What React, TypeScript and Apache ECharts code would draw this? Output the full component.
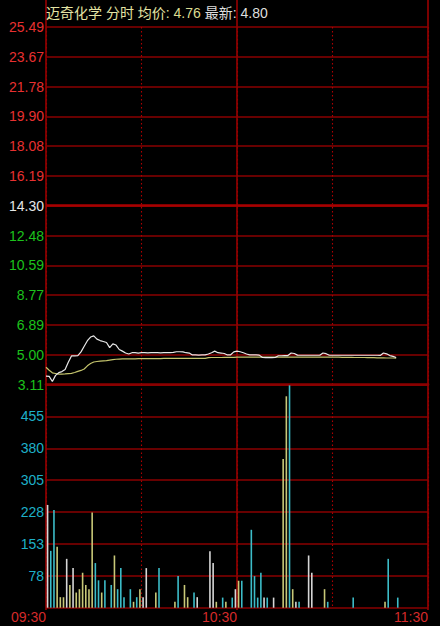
import { useEffect, useRef } from 'react';
import * as echarts from 'echarts';

// Intraday (分时) chart of 迈奇化学, morning session 09:30–11:30
const stockName = '迈奇化学';
const timeLabels = ['09:30', '10:30', '11:30'];
const sessionMinutes = 120;

const priceMin = 3.11;
const priceMax = 25.49;
const prevClose = 14.3;
const priceTickLabels = [
  '3.11', '5.00', '6.89', '8.77', '10.59', '12.48', '14.30',
  '16.19', '18.08', '19.90', '21.78', '23.67', '25.49',
];

const volumeMax = 530;
const volumeTickLabels = ['', '78', '153', '228', '305', '380', '455', ''];

// last price per minute, minute 0 = 09:30
const price = [
  3.64, 3.62, 3.3, 3.68, 3.85, 3.92, 4.05, 4.5, 4.9, 4.9,
  4.92, 5.15, 5.5, 5.85, 6.08, 6.15, 5.95, 5.86, 5.8, 5.74,
  5.42, 5.65, 5.58, 5.3, 5.2, 5.08, 5.02, 5.1, 5.1, 5.08,
  5.1, 5.1, 5.09, 5.1, 5.1, 5.1, 5.09, 5.1, 5.1, 5.1,
  5.12, 5.16, 5.16, 5.15, 5.1, 5.08, 4.96, 4.96, 4.95, 4.96,
  4.96, 5.02, 5.1, 5.2, 5.1, 5.08, 5.05, 4.96, 4.97, 5.15,
  5.2, 5.16, 5.1, 5.02, 4.96, 4.96, 4.96, 4.95, 4.8, 4.79,
  4.79, 4.79, 4.8, 4.91, 4.91, 4.92, 4.92, 5.08, 5.05, 4.95,
  4.94, 4.94, 4.94, 4.94, 4.94, 4.94, 4.94, 5.08, 5.04, 4.94,
  4.94, 4.94, 4.94, 4.94, 4.94, 4.94, 4.94, 4.94, 4.94, 4.94,
  4.94, 4.94, 4.94, 4.94, 4.94, 4.93, 5.08, 5.03, 4.92, 4.87,
  4.8,
];

// running average price per minute
const avgPrice = [
  4.19, 4.0, 3.84, 3.8, 3.76, 3.76, 3.77, 3.79, 3.81, 3.86,
  3.93, 3.99, 4.08, 4.28, 4.42, 4.52, 4.55, 4.57, 4.59, 4.61,
  4.64, 4.67, 4.69, 4.7, 4.71, 4.72, 4.72, 4.72, 4.72, 4.73,
  4.73, 4.73, 4.73, 4.73, 4.73, 4.73, 4.73, 4.74, 4.74, 4.74,
  4.74, 4.74, 4.74, 4.74, 4.74, 4.74, 4.74, 4.74, 4.74, 4.74,
  4.75, 4.79, 4.8, 4.8, 4.8, 4.8, 4.81, 4.81, 4.81, 4.81,
  4.82, 4.82, 4.82, 4.82, 4.82, 4.82, 4.82, 4.82, 4.82, 4.82,
  4.82, 4.82, 4.82, 4.82, 4.82, 4.82, 4.82, 4.82, 4.82, 4.82,
  4.82, 4.82, 4.82, 4.82, 4.82, 4.82, 4.82, 4.82, 4.82, 4.82,
  4.82, 4.82, 4.82, 4.81, 4.81, 4.81, 4.81, 4.8, 4.8, 4.8,
  4.8, 4.79, 4.79, 4.79, 4.78, 4.78, 4.78, 4.77, 4.77, 4.77,
  4.76,
];

// per-minute volume (only minutes with trades)
const volMinute = [
  0, 1, 2, 3, 4, 5, 6, 7, 8, 9, 10, 11, 12, 13, 14, 15, 16, 17, 18,
  20, 21, 22, 23, 24, 26, 27, 28, 29, 30, 31, 34, 35, 40, 41, 43, 44,
  46, 47, 51, 52, 53, 55, 56, 58, 59, 60, 61, 64, 65, 66, 67, 68, 69,
  71, 74, 75, 76, 77, 78, 79, 82, 83, 87, 88, 96, 106, 107, 110,
];
const volValue = [
  244, 135, 232, 145, 25, 25, 116, 54, 94, 36, 44, 83, 54, 44, 226, 106, 65, 36, 65,
  54, 124, 44, 94, 25, 44, 14, 25, 44, 25, 94, 36, 94, 14, 75, 54, 25,
  36, 25, 134, 106, 14, 24, 14, 24, 44, 64, 64, 185, 75, 24, 83, 24, 24,
  24, 353, 502, 528, 44, 14, 14, 124, 83, 44, 14, 24, 14, 116, 24,
];
// w = unchanged, c = down tick, y = up tick
const volKind = [
  'w', 'c', 'c', 'y', 'y', 'y', 'w', 'y', 'w', 'y', 'y', 'y', 'y', 'y', 'y', 'c', 'c', 'y', 'c',
  'c', 'y', 'c', 'c', 'c', 'c', 'y', 'c', 'y', 'w', 'w', 'y', 'c', 'y', 'c', 'y', 'y',
  'c', 'w', 'w', 'w', 'y', 'c', 'y', 'c', 'w', 'y', 'c', 'c', 'c', 'c', 'c', 'w', 'c',
  'w', 'y', 'y', 'c', 'y', 'w', 'c', 'w', 'w', 'y', 'c', 'c', 'y', 'c', 'c',
];

const kindColor: Record<string, string> = {
  w: '#d6d6d6',
  c: '#3cbcc8',
  y: '#c8c878',
};

const GRID_RED = '#8a0000';
const DOT_RED = '#b00000';
const FONT = '"Liberation Sans", Arial, "Noto Sans CJK SC", sans-serif';

export default function App() {
  const ref = useRef<HTMLDivElement>(null);

  useEffect(() => {
    const chart = echarts.init(ref.current!, null, { renderer: 'svg' });

    const priceStep = (priceMax - priceMin) / (priceTickLabels.length - 1);
    const priceTicks = priceTickLabels.map((_, i) => priceMin + i * priceStep);
    const volStep = volumeMax / (volumeTickLabels.length - 1);

    const lastPrice = price[price.length - 1].toFixed(2);
    const lastAvg = avgPrice[avgPrice.length - 1].toFixed(2);

    const hiddenAxis = {
      axisLine: { show: false },
      axisTick: { show: false },
      axisLabel: { show: false },
    };

    const dottedSplit = { show: true, lineStyle: { color: DOT_RED, width: 1.1, type: [1.5, 2.5] } };

    const option: any = {
      animation: false,
      backgroundColor: '#000',
      title: {
        left: 46,
        top: 6,
        padding: 0,
        text: `{n|${stockName} 分时 均价:}{v| ${lastAvg}} {m|最新:}{w| ${lastPrice}}`,
        textStyle: {
          fontFamily: FONT,
          fontSize: 14,
          fontWeight: 'normal',
          rich: {
            n: { color: '#e4e4a4', fontSize: 14, fontFamily: FONT },
            v: { color: '#dcdc90', fontSize: 14, fontFamily: FONT },
            m: { color: '#dedede', fontSize: 14, fontFamily: FONT },
            w: { color: '#dedede', fontSize: 14, fontFamily: FONT },
          },
        },
      },
      grid: [
        { left: 46, right: 12, top: 27, height: 357.5 },
        { left: 46, right: 12, top: 384.5, height: 223.2 },
        { left: 46, right: 12, top: 0, height: 610 },
      ],
      xAxis: [
        {
          gridIndex: 0,
          type: 'value',
          min: 0,
          max: sessionMinutes,
          interval: 30,
          axisLine: { show: true, onZero: false, lineStyle: { color: GRID_RED, width: 2.6 } },
          axisTick: { show: false },
          axisLabel: { show: false },
          splitLine: dottedSplit,
        },
        {
          gridIndex: 1,
          type: 'value',
          min: 0,
          max: sessionMinutes,
          interval: 30,
          axisLine: { show: false },
          axisTick: { show: false },
          axisLabel: {
            show: true,
            align: 'right',
            margin: 2,
            color: '#d42a2a',
            fontSize: 14,
            lineHeight: 14,
            fontFamily: FONT,
            showMinLabel: true,
            showMaxLabel: true,
            formatter: (v: number) => (v % 60 === 0 ? timeLabels[Math.round(v / 60)] : ''),
          },
          splitLine: dottedSplit,
        },
        {
          gridIndex: 2,
          type: 'value',
          min: 0,
          max: sessionMinutes,
          interval: 60,
          z: 1,
          ...hiddenAxis,
          splitLine: { show: true, lineStyle: { color: '#900000', width: 1.7 } },
        },
      ],
      yAxis: [
        {
          gridIndex: 0,
          type: 'value',
          min: priceMin,
          max: priceMax,
          axisLine: { show: false },
          axisTick: { show: false, customValues: priceTicks },
          axisLabel: {
            customValues: priceTicks,
            margin: 2,
            fontSize: 14,
            fontFamily: FONT,
            formatter: (v: number) => priceTickLabels[Math.round((v - priceMin) / priceStep)] ?? '',
            color: (v: any) => {
              const n = Number(v);
              if (Math.abs(n - prevClose) < 0.05) return '#e6e6e6';
              return n > prevClose ? '#e83030' : '#1cc21c';
            },
          },
          splitLine: { show: true, lineStyle: { color: GRID_RED, width: 1.5 } },
        },
        {
          gridIndex: 1,
          type: 'value',
          min: 0,
          max: volumeMax,
          interval: volStep,
          axisLine: { show: false },
          axisTick: { show: false },
          axisLabel: {
            margin: 2,
            fontSize: 14,
            fontFamily: FONT,
            color: '#1eb0c8',
            showMaxLabel: false,
            formatter: (v: number) => volumeTickLabels[Math.round(v / volStep)] ?? '',
          },
          splitLine: { show: true, lineStyle: { color: GRID_RED, width: 1.5 } },
        },
        { gridIndex: 2, type: 'value', min: 0, max: 1, show: false },
      ],
      series: [
        {
          name: '价格',
          type: 'line',
          xAxisIndex: 0,
          yAxisIndex: 0,
          showSymbol: false,
          symbol: 'none',
          z: 4,
          lineStyle: { color: '#e8e8e8', width: 1.2 },
          data: price.map((p, i) => [i, p]),
          markLine: {
            silent: true,
            symbol: 'none',
            label: { show: false },
            lineStyle: { color: '#a80000', width: 2.6, type: 'solid' },
            data: [{ yAxis: prevClose }],
          },
        },
        {
          name: '均价',
          type: 'line',
          xAxisIndex: 0,
          yAxisIndex: 0,
          showSymbol: false,
          symbol: 'none',
          z: 3,
          lineStyle: { color: '#c4c46c', width: 1.2 },
          data: avgPrice.map((p, i) => [i, p]),
        },
        {
          name: '成交量',
          type: 'bar',
          xAxisIndex: 1,
          yAxisIndex: 1,
          barWidth: 1.6,
          data: volMinute.map((m, i) => ({
            // each bar sits in the middle of its one-minute slot
            value: [m + 0.5, volValue[i]],
            itemStyle: { color: kindColor[volKind[i]] },
          })),
        },
      ],
    };

    chart.setOption(option);
    return () => chart.dispose();
  }, []);

  return (
    <div
      ref={ref}
      style={{ position: 'fixed', left: 0, top: 0, width: 440, height: 626, background: '#000' }}
    />
  );
}
